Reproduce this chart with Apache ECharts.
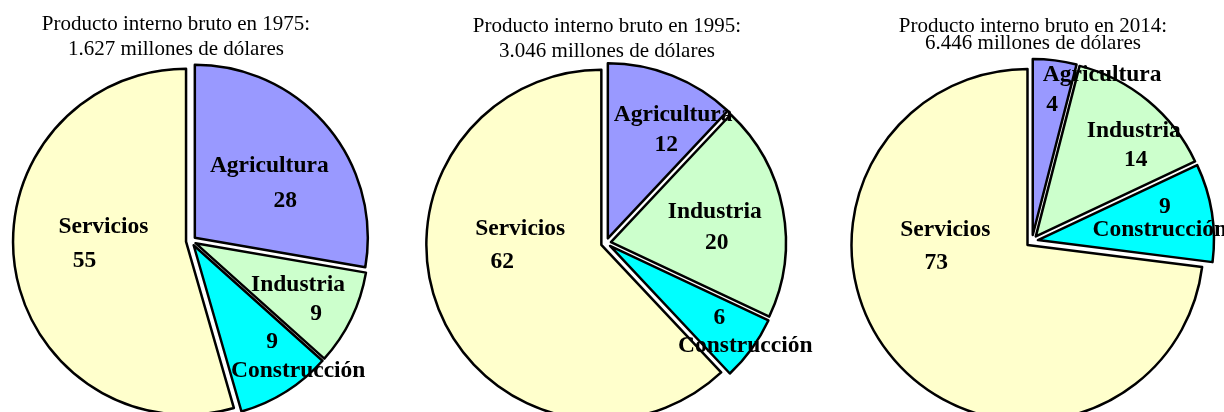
<!DOCTYPE html>
<html>
<head>
<meta charset="utf-8">
<script src="https://cdn.jsdelivr.net/npm/echarts@6/dist/echarts.min.js"></script>
<style>
  html, body { margin: 0; background: #fff; }
  #chart { width: 1224px; height: 412px; }
</style>
</head>
<body>
<div id="chart"></div>
<script>
// datos
const sectores = ['Agricultura', 'Industria', 'Construcción', 'Servicios']
const anios = ['1975', '1995', '2014']
const totales = ['1.627', '3.046', '6.446']
const pib1975 = [28, 9, 9, 55]
const pib1995 = [12, 20, 6, 62]
const pib2014 = [4, 14, 9, 73]
const series = [pib1975, pib1995, pib2014]

const colores = ['#9999ff', '#ccffcc', '#00ffff', '#ffffcc']
const fuente = 'Liberation Serif, Times New Roman, serif'

// geometria de cada torta
const tortas = [
  { center: [191, 241], radius: 173, offset: 5, titleX: 176, titleY: 12, titleLH: 25 },
  { center: [606, 243], radius: 175, offset: 5, titleX: 607, titleY: 14, titleLH: 25 },
  { center: [1032, 241], radius: 176, offset: 6, titleX: 1033, titleY: 18, titleLH: 17 }
]

// ajuste de etiquetas por porcion: [dx, dy, alto de linea, corrimiento del valor]
const ajustes = [
  [[6, 3, 35, 16], [22, 17, 29, 18], [57, 35, 29, -26], [6, -10, 34, -19]],
  [[32, -24, 30, -7], [15, 2, 31, 2], [62, 33, 28, -26], [3, -33, 33, -18]],
  [[58, -55, 30, -50], [40, -21, 29, 2], [32, -7, 23, 5], [-14, -59, 33, -9]]
]

const chart = echarts.init(document.getElementById('chart'))

const option = {
  animation: false,
  title: tortas.map((t, i) => ({
    text: 'Producto interno bruto en ' + anios[i] + ':\n' + totales[i] + ' millones de dólares',
    left: t.titleX,
    top: t.titleY,
    textAlign: 'center',
    padding: 0,
    textStyle: {
      fontFamily: fuente,
      fontSize: 21,
      fontWeight: 'normal',
      color: '#000',
      lineHeight: t.titleLH
    }
  })),
  series: tortas.map((t, i) => ({
    type: 'pie',
    center: t.center,
    radius: t.radius,
    startAngle: 90,
    clockwise: true,
    selectedMode: 'multiple',
    selectedOffset: t.offset,
    emphasis: { disabled: true },
    itemStyle: { borderColor: '#000', borderWidth: 2.5 },
    select: { itemStyle: { borderColor: '#000', borderWidth: 2.5 } },
    labelLine: { show: false },
    labelLayout: p => ({ dx: ajustes[i][p.dataIndex][0], dy: ajustes[i][p.dataIndex][1] }),
    data: series[i].map((v, j) => {
      const [, , lh, sh] = ajustes[i][j]
      const pad = sh >= 0 ? [0, 0, 0, 2 * sh] : [0, -2 * sh, 0, 0]
      const estilo = { fontFamily: fuente, fontSize: 23.5, fontWeight: 'bold', color: '#000', lineHeight: lh }
      return {
        name: sectores[j],
        value: v,
        selected: true,
        itemStyle: { color: colores[j] },
        label: {
          show: true,
          position: 'inside',
          formatter: j === 2 ? '{v|{c}}\n{n|{b}}' : '{n|{b}}\n{v|{c}}',
          rich: {
            n: estilo,
            v: Object.assign({}, estilo, { padding: pad })
          }
        }
      }
    })
  }))
}

chart.setOption(option)
</script>
</body>
</html>
